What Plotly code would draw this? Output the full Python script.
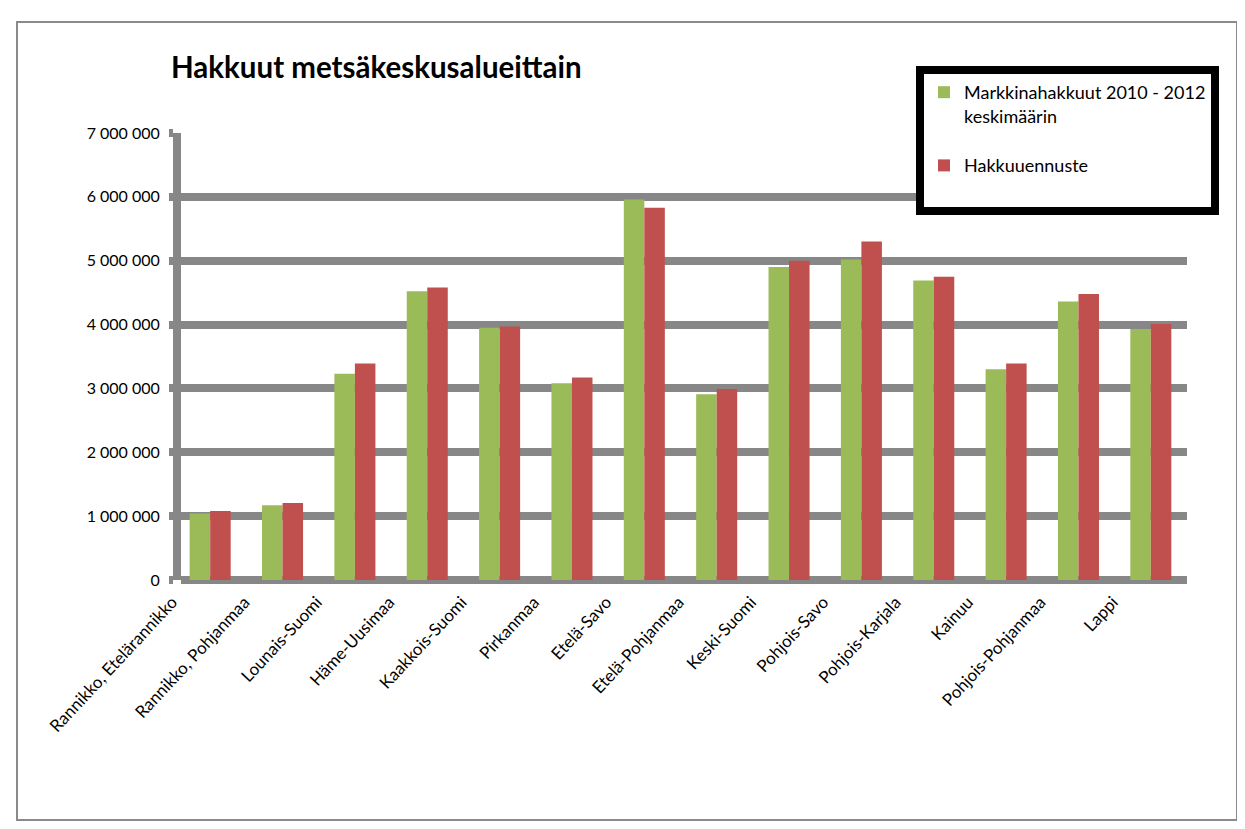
import plotly.graph_objects as go

categories = ["Rannikko, Etelärannikko", "Rannikko, Pohjanmaa", "Lounais-Suomi", "Häme-Uusimaa",
              "Kaakkois-Suomi", "Pirkanmaa", "Etelä-Savo", "Etelä-Pohjanmaa", "Keski-Suomi",
              "Pohjois-Savo", "Pohjois-Karjala", "Kainuu", "Pohjois-Pohjanmaa", "Lappi"]
markkinahakkuut = [1040000, 1170000, 3230000, 4520000, 3950000, 3080000, 5960000, 2910000,
                   4900000, 5020000, 4690000, 3300000, 4360000, 3930000]
hakkuuennuste = [1080000, 1205000, 3390000, 4580000, 3970000, 3170000, 5830000, 2990000,
                 5000000, 5300000, 4750000, 3390000, 4480000, 4010000]
ytick_vals = [0, 1000000, 2000000, 3000000, 4000000, 5000000, 6000000, 7000000]
ytick_text = ["0", "1 000 000", "2 000 000", "3 000 000", "4 000 000", "5 000 000", "6 000 000", "7 000 000"]

FONT = "Lato, 'Open Sans', sans-serif"
GRID = "#878787"
OFF = 8  # page body margin

fig = go.Figure()
fig.add_trace(go.Bar(x=categories, y=markkinahakkuut, name="Markkinahakkuut 2010 - 2012<br>keskimäärin<br> ",
                     marker=dict(color="#9BBB59", line=dict(width=0))))
fig.add_trace(go.Bar(x=categories, y=hakkuuennuste, name="Hakkuuennuste<br> ",
                     marker=dict(color="#C0504D", line=dict(width=0))))

W, H = 1245 - OFF, 829 - OFF
L, R, T, B = 181 - OFF, 1187 - OFF, 133 - OFF, 580 - OFF
PW, PH = R - L, B - T


def px(x):
    return (x - OFF - L) / PW


def py(y):
    return (B - (y - OFF)) / PH


fig.update_layout(
    width=W, height=H,
    margin=dict(l=L, r=W - R, t=T, b=H - B, pad=0),
    paper_bgcolor="white", plot_bgcolor="white",
    barmode="group", bargap=0.433, bargroupgap=0,
    font=dict(family=FONT, color="black"),
    title=dict(text="<b>Hakkuut metsäkeskusalueittain</b>", x=(171 - OFF) / W, xanchor="left",
               y=1 - (68 - OFF) / H, yanchor="middle", xref="container", yref="container",
               font=dict(family=FONT, size=29.5, color="black")),
    legend=dict(x=px(1219), y=py(66), xanchor="right", yanchor="top",
                bgcolor="white", bordercolor="black", borderwidth=8,
                font=dict(family=FONT, size=18, color="black"), valign="top",
                itemwidth=30, traceorder="normal"),
    showlegend=True,
)
fig.update_xaxes(type="category", range=[-0.5 + 7 / 72.35, 13.5], tickangle=-47,
                 showgrid=False, ticks="", showline=False, ticklabelshift=-38, ticklabelstandoff=8,
                 tickfont=dict(family=FONT, size=17, color="black"))
fig.update_yaxes(range=[0, 7000000], tickvals=ytick_vals, ticktext=ytick_text,
                 showgrid=True, gridcolor=GRID, gridwidth=8,
                 zeroline=True, zerolinecolor=GRID, zerolinewidth=8,
                 showline=True, linecolor=GRID, linewidth=8,
                 ticks="outside", ticklen=4, tickwidth=8, tickcolor=GRID,
                 tickfont=dict(family=FONT, size=16, color="black"), ticklabelstandoff=6)
fig.add_shape(type="rect", xref="paper", yref="paper",
              x0=px(17), x1=px(1237), y0=py(820), y1=py(22),
              line=dict(color="#8a8a8a", width=2), fillcolor="rgba(0,0,0,0)", layer="below")
fig.write_html("out.html")
